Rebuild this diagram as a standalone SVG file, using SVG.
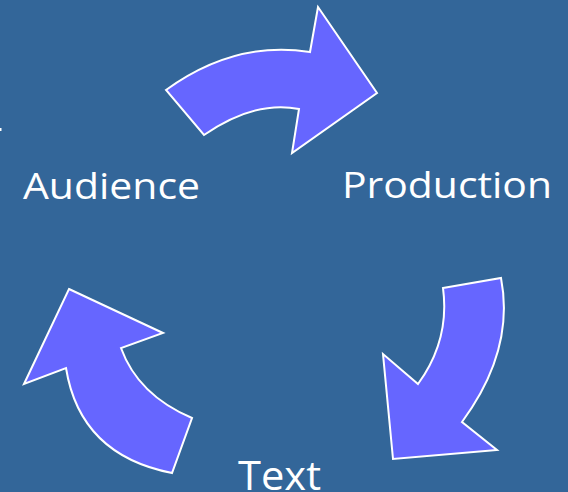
<svg xmlns="http://www.w3.org/2000/svg" width="568" height="492" viewBox="0 0 568 492">
<style>
.arr{fill:#6666ff;stroke:#ffffff;stroke-width:2;stroke-linejoin:miter}
.lbl{font-family:"Open Sans","Liberation Sans",sans-serif;font-size:37px;fill:#ffffff}
</style>
<rect width="568" height="492" fill="#336699"/>
<rect x="0" y="128" width="1.5" height="3" fill="#ffffff"/>
<g id="connectors">
<path id="arrow-top" class="arr" d="M166,90 Q235,40 310,52 L318,7 L377,93 L292,153 L299,109 Q255,100 204,135 Z"/>
<path id="arrow-right" class="arr" d="M443,288 L501,278 Q515,350 462,422 L497,450 L393,459 L383,354 L418,384 Q450,340 443,288 Z"/>
<path id="arrow-left" class="arr" d="M69,289 L163,333 L121,348 Q138,395 192,418 L172,473 Q80,455 66,368 L24,384 Z"/>
</g>
<g id="node-audience"><text class="lbl" x="23" y="199" textLength="177" lengthAdjust="spacingAndGlyphs">Audience</text></g>
<g id="node-production"><text class="lbl" x="342" y="198" textLength="210" lengthAdjust="spacingAndGlyphs">Production</text></g>
<g id="node-text"><text class="lbl" x="238" y="490" style="font-size:41px" textLength="83" lengthAdjust="spacingAndGlyphs">Text</text></g>
</svg>
